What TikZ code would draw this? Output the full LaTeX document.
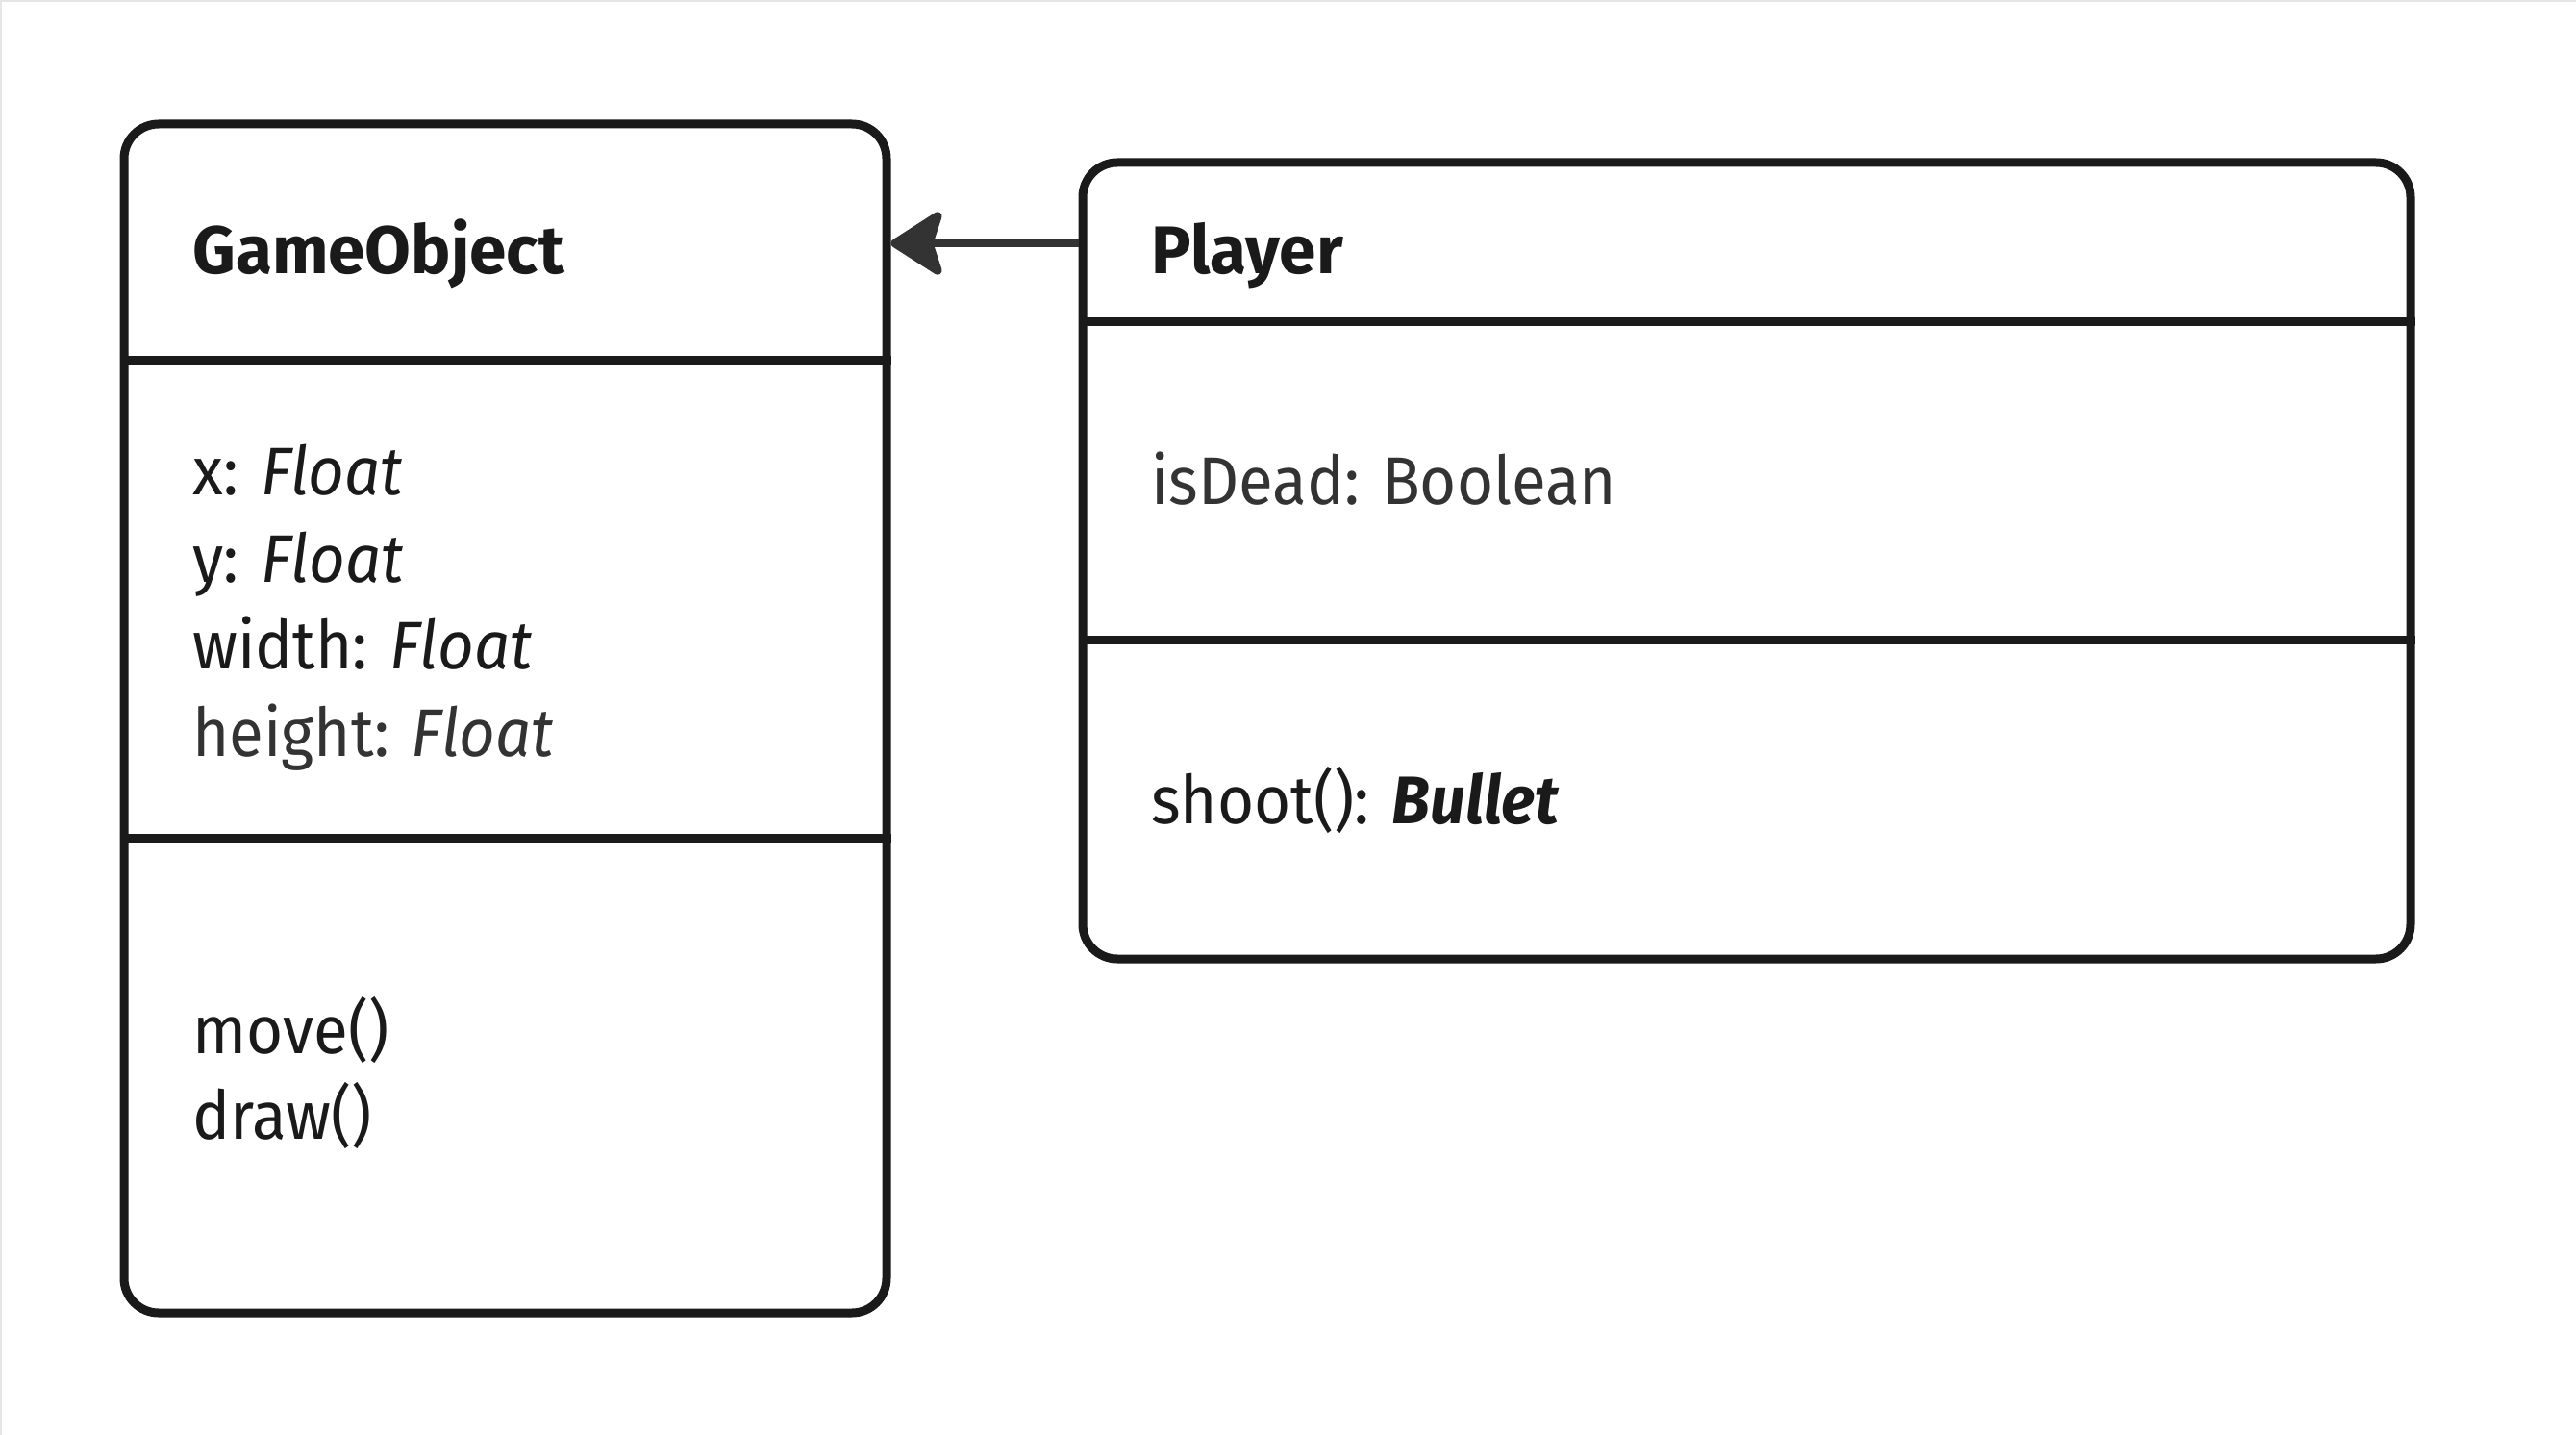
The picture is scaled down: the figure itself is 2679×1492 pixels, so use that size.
\documentclass[tikz,border=0pt]{standalone}
\usepackage{fontspec}
\setmainfont{Fira Sans}[FakeStretch=0.935, BoldFeatures={FakeStretch=0.99}]
\usetikzlibrary{arrows.meta}
\definecolor{ink}{HTML}{1A1A1A}
\definecolor{inkgray}{HTML}{333333}
\definecolor{frame}{HTML}{E6E6E6}
\begin{document}
\begin{tikzpicture}[x=0.5pt,y=-0.5pt,
  umlbox/.style={draw=ink, line width=4.5pt, rounded corners=18pt, inner sep=0pt, fill=white},
  divider/.style={draw=ink, line width=4.5pt},
  txt/.style={anchor=base west, inner sep=0pt, text=ink, font=\fontsize{35}{45}\selectfont},
  gtxt/.style={txt, text=inkgray},
  inherit/.style={draw=inkgray, line width=4.5pt, -{Stealth[length=30pt, width=38pt, inset=6pt, round]}}
]
\useasboundingbox (0,0) rectangle (2679,1492);
\fill[white] (0,0) rectangle (2679,1492);
\draw[frame, line width=1pt] (1,1492) -- (1,1) -- (2679,1);
% boxes
\node[umlbox, minimum width=396.5pt, minimum height=618pt] (go) at (525.5,747) {};
\node[umlbox, minimum width=690.5pt, minimum height=414pt] (pl) at (1816.5,583) {};
% dividers
\coordinate (g1) at (0,375);
\coordinate (g2) at (0,871);
\coordinate (p1) at (0,335);
\coordinate (p2) at (0,665);
\draw[divider] (go.west |- g1) -- (go.east |- g1);
\draw[divider] (go.west |- g2) -- (go.east |- g2);
\draw[divider] (pl.west |- p1) -- (pl.east |- p1);
\draw[divider] (pl.west |- p2) -- (pl.east |- p2);
% connector
\coordinate (ay) at (0,253);
\draw[inherit] (pl.west |- ay) -- (go.east |- ay);
% texts
\node[txt] (goname) at (200,285) {\bfseries GameObject};
\node[txt] (ax) at (200,515) {x: \itshape Float};
\node[txt] (ayy) at (200,605.5) {y: \itshape Float};
\node[txt] (aw) at (200,696) {width: \itshape Float};
\node[gtxt] (ah) at (200,786.5) {height: \itshape Float};
\node[txt] (mm) at (200,1095) {move()};
\node[txt] (md) at (200,1184) {draw()};
\node[txt] (plname) at (1197,285) {\bfseries Player};
\node[gtxt] (pd) at (1197,525) {isDead: Boolean};
\node[txt] (ps) at (1197,856) {shoot(): \bfseries\itshape Bullet};
\end{tikzpicture}
\end{document}
